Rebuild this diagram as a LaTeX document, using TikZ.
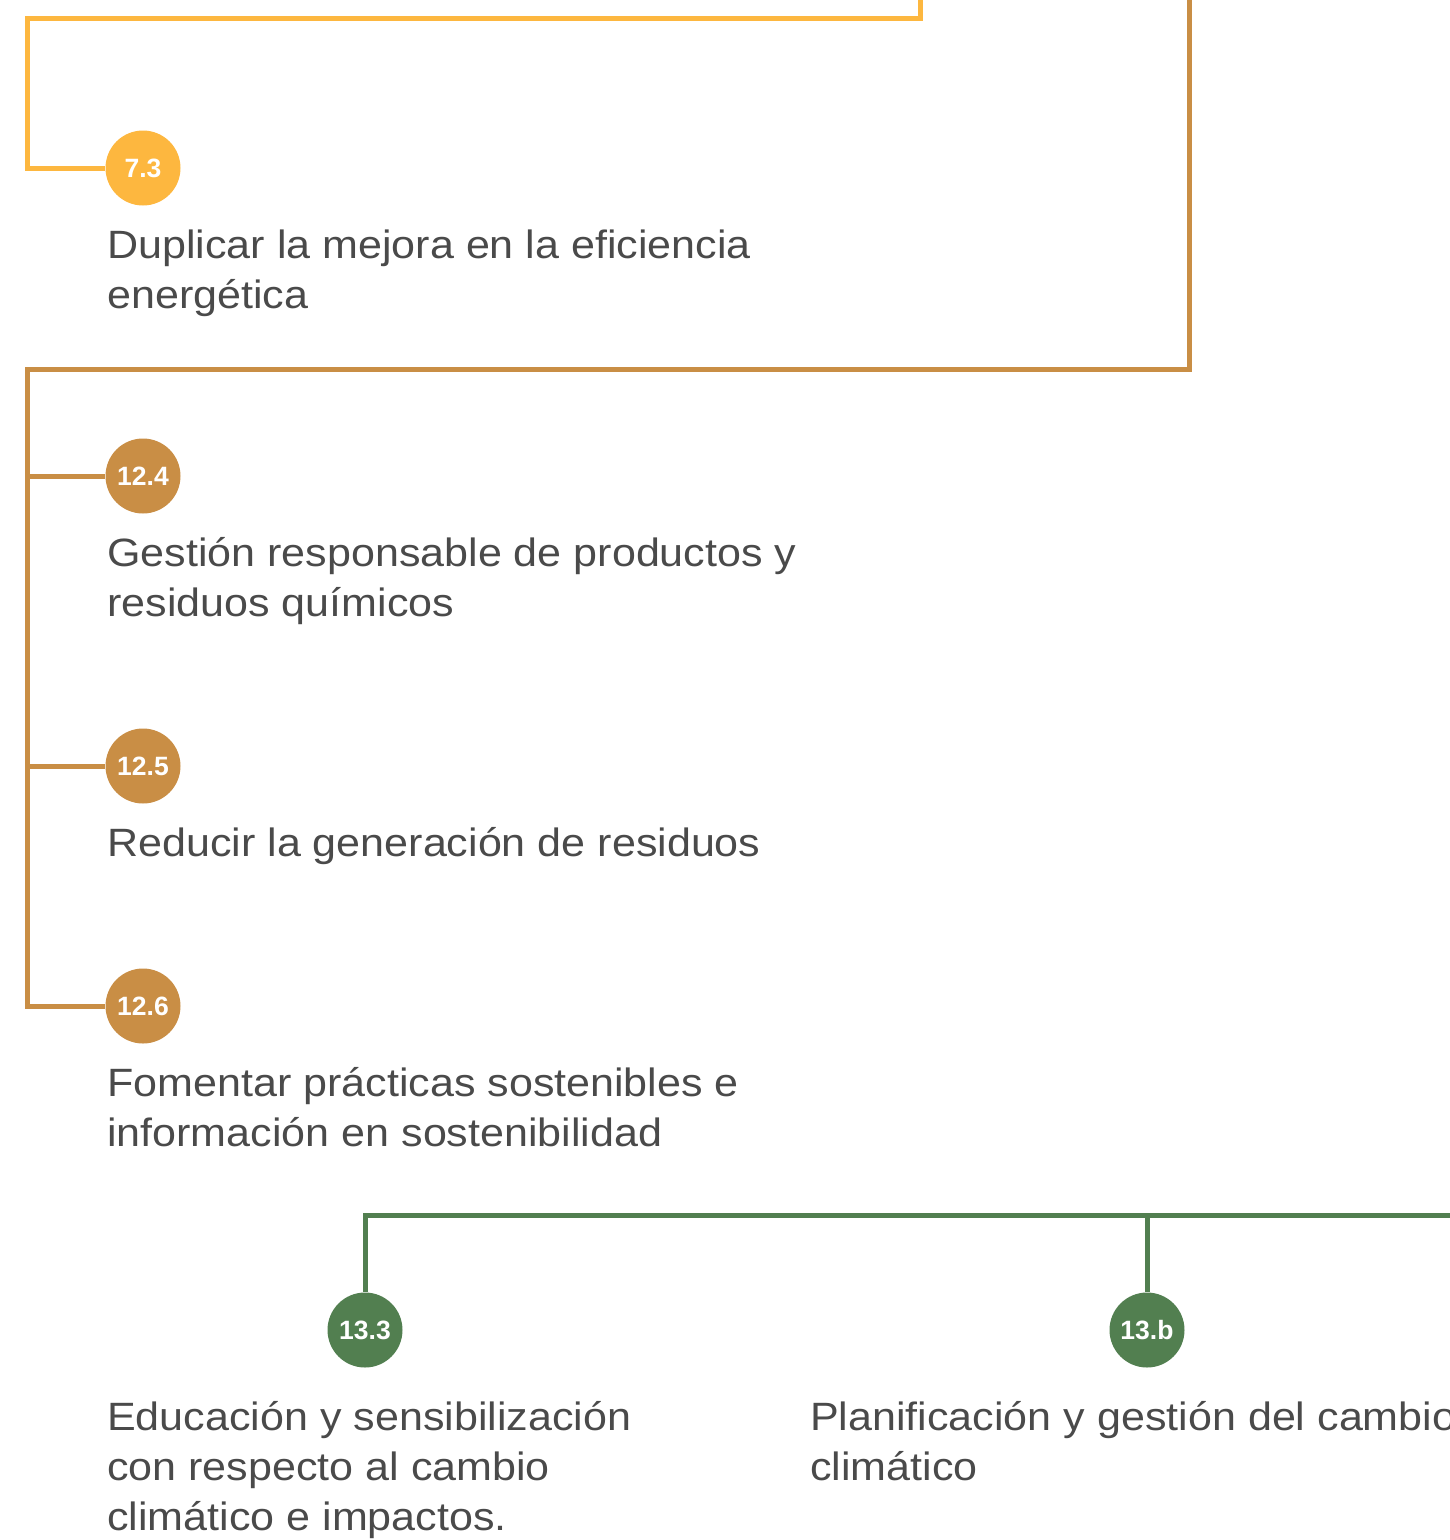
\documentclass[tikz,border=0pt]{standalone}
\usepackage{fontspec}
\setmainfont{Liberation Sans}[FakeStretch=1.09]
\newfontfamily\labelfont{Liberation Sans}[FakeStretch=1.0]
\definecolor{ylw}{HTML}{FDB73F}
\definecolor{brn}{HTML}{C98E45}
\definecolor{grn}{HTML}{527F50}
\definecolor{txt}{HTML}{4A4A4A}
\begin{document}
\begin{tikzpicture}[x=1pt,y=-1pt,
  goal/.style={circle,minimum size=75pt,inner sep=0pt,text=white,
    font=\labelfont\bfseries\fontsize{26.5}{26.5}\selectfont},
  desc/.style={anchor=base west,inner sep=0pt,text=txt,
    font=\fontsize{39.5}{50}\selectfont},
  conn/.style={line width=5pt,line join=miter}]
\useasboundingbox (0,0) rectangle (1450,1540);
\clip (0,0) rectangle (1450,1540);

% circles
\node[goal,fill=ylw] (c73) at (143,168) {7.3};
\node[goal,fill=brn] (c124) at (143,476) {12.4};
\node[goal,fill=brn] (c125) at (143,766) {12.5};
\node[goal,fill=brn] (c126) at (143,1006) {12.6};
\node[goal,fill=grn] (c133) at (365,1330) {13.3};
\node[goal,fill=grn] (c13b) at (1147,1330) {13.b};

% texts
\node[desc] (t73a) at (107,258) {Duplicar la mejora en la eficiencia};
\node[desc] (t73b) at (107,308) {energética};
\node[desc] (t124a) at (107,566) {Gestión responsable de productos y};
\node[desc] (t124b) at (107,616) {residuos químicos};
\node[desc] (t125a) at (107,856) {Reducir la generación de residuos};
\node[desc] (t126a) at (107,1096) {Fomentar prácticas sostenibles e};
\node[desc] (t126b) at (107,1146) {información en sostenibilidad};
\node[desc] (t133a) at (107,1430) {Educación y sensibilización};
\node[desc] (t133b) at (107,1480) {con respecto al cambio};
\node[desc] (t133c) at (107,1530) {climático e impactos.};
\node[desc] (t13ba) at (810,1430) {Planificación y gestión del cambio};
\node[desc] (t13bb) at (810,1480) {climático};

% yellow connector
\coordinate (ytop) at (920,-10);
\coordinate (yc1) at (920,18);
\coordinate (yc2) at (27,18);
\coordinate (yc3) at (27,168);
\draw[conn,ylw] (ytop) -- (yc1) -- (yc2) -- (yc3) -- (c73.west);

% brown connector
\coordinate (btop) at (1189,-10);
\coordinate (bc1) at (1189,369);
\coordinate (bc2) at (27,369);
\coordinate (bj124) at (27,476);
\coordinate (bj125) at (27,766);
\coordinate (bj126) at (27,1006);
\draw[conn,brn] (btop) -- (bc1) -- (bc2) -- (bj126) -- (c126.west);
\draw[conn,brn] (bj124) -- (c124.west);
\draw[conn,brn] (bj125) -- (c125.west);

% green connector
\coordinate (gright) at (1460,1215);
\coordinate (gc1) at (365,1215);
\coordinate (gj) at (1147,1215);
\draw[conn,grn] (gright) -- (gc1) -- (c133.north);
\draw[conn,grn] (gj) -- (c13b.north);
\end{tikzpicture}
\end{document}
